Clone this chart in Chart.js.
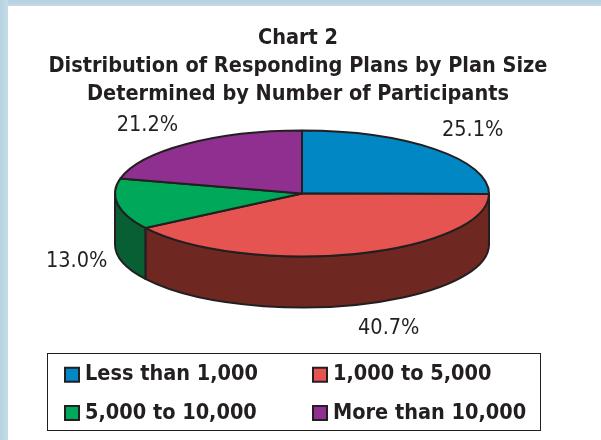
<!DOCTYPE html>
<html>
<head>
<meta charset="utf-8">
<style>
html,body{margin:0;padding:0;width:601px;height:440px;overflow:hidden;background:#fff}
#frameTop{position:absolute;left:0;top:0;width:601px;height:6px;background:linear-gradient(to bottom,#b4cfdf,#c4dae6)}
#frameLeft{position:absolute;left:0;top:0;width:8px;height:440px;background:linear-gradient(to right,#b7d3e2,#c6dbe7)}
canvas{position:absolute;left:0;top:0;display:block}
</style>
<script src="https://cdn.jsdelivr.net/npm/chart.js@4"></script>
</head>
<body>
<div id="frameTop"></div><div id="frameLeft"></div>
<canvas id="c" width="601" height="440"></canvas>
<script>
const titleLines = ['Chart 2','Distribution of Responding Plans by Plan Size','Determined by Number of Participants'];
const categories = ['Less than 1,000','1,000 to 5,000','5,000 to 10,000','More than 10,000'];
const shares = [25.1, 40.7, 13.0, 21.2];
const topColors = ['#0087c4','#e55451','#00a85a','#8f3090'];
const wallColors = ['#00506f','#6f2821','#085f33','#521a54'];
const legendOrder = [0, 2, 1, 3];
const ink = '#231f20';
const fontFamily = '"DejaVu Sans Condensed", "DejaVu Sans", sans-serif';

const pieShape = {cx:302, cy:193.5, rx:187, ry:63, depth:51};
const labelOffsets = [[38,-19],[34,74],[-41,57],[-39,-19]];
const legendFrame = {left:47.5, top:353.5, right:540.5, bottom:430.5};
const legendPad = 16.8, legendColumnStep = 248;

const pie3d = {
  id:'pie3d',
  beforeLayout(chart){
    const lg = chart.legend;
    if (lg && !lg._patched){
      lg._patched = true;
      const fit = lg.fit;
      lg.fit = function(){
        this.maxHeight = 110;
        fit.call(this);
        this.columnSizes[0].width = legendColumnStep - legendPad;
        this.width = 1; this.height = 1;
      };
    }
  },
  afterLayout(chart){
    const lg = chart.legend;
    lg.left = 69.75 - legendPad; lg.right = legendFrame.right;
    lg.top = 364 - legendPad; lg.bottom = 446;
    lg.width = lg.right - lg.left; lg.height = lg.bottom - lg.top;
  },
  beforeDatasetsDraw(chart){
    const ctx = chart.ctx, {cx,cy,rx,ry,depth} = pieShape;
    const arcs = chart.getDatasetMeta(0).data;
    ctx.save();
    ctx.lineWidth = 2; ctx.strokeStyle = ink; ctx.lineJoin = 'round';
    arcs.forEach((a,i)=>{
      const t0 = Math.max(a.startAngle, 0), t1 = Math.min(a.endAngle, Math.PI);
      if (t1 <= t0) return;
      ctx.beginPath();
      ctx.ellipse(cx,cy,rx,ry,0,t0,t1,false);
      ctx.ellipse(cx,cy+depth,rx,ry,0,t1,t0,true);
      ctx.closePath();
      ctx.fillStyle = wallColors[i];
      ctx.fill(); ctx.stroke();
    });
    ctx.restore();
    const a0 = arcs[0], s = a0.outerRadius;
    ctx.save();
    ctx.translate(cx,cy);
    ctx.scale(rx/s, ry/s);
    ctx.translate(-a0.x,-a0.y);
    const stroke = ctx.stroke;
    ctx.stroke = function(){
      ctx.save();
      ctx.setTransform(1,0,0,1,0,0);
      stroke.call(ctx);
      ctx.restore();
    };
  },
  afterDatasetsDraw(chart){
    const ctx = chart.ctx, {cx,cy,rx,ry} = pieShape;
    delete ctx.stroke;
    ctx.restore();
    const arcs = chart.getDatasetMeta(0).data;
    ctx.save();
    ctx.fillStyle = ink;
    ctx.font = '21.5px ' + fontFamily;
    ctx.textAlign = 'center'; ctx.textBaseline = 'middle';
    arcs.forEach((a,i)=>{
      const m = (a.startAngle + a.endAngle)/2;
      ctx.fillText(shares[i].toFixed(1)+'%', cx+rx*Math.cos(m)+labelOffsets[i][0], cy+ry*Math.sin(m)+labelOffsets[i][1]);
    });
    ctx.restore();
  },
  afterDraw(chart){
    const ctx = chart.ctx, f = legendFrame;
    ctx.save();
    ctx.strokeStyle = ink; ctx.lineWidth = 1;
    ctx.strokeRect(f.left,f.top,f.right-f.left,f.bottom-f.top);
    ctx.restore();
  }
};

new Chart(document.getElementById('c'),{
  type:'pie',
  data:{labels:categories,datasets:[{
    data:shares, backgroundColor:topColors, borderColor:ink, borderWidth:2, borderAlign:'center', clip:false
  }]},
  options:{
    responsive:false, animation:false,
    layout:{padding:{right:5}},
    plugins:{
      tooltip:{enabled:false},
      title:{display:true,text:titleLines,color:ink,align:'center',
        font:{family:fontFamily,size:21.5,weight:'bold',lineHeight:1.302},padding:{top:24,bottom:4}},
      legend:{display:true,position:'left',align:'start',
        labels:{color:ink,font:{family:fontFamily,size:21.5,weight:'bold'},usePointStyle:true,pointStyle:'rect',boxWidth:4.5,boxHeight:14,padding:legendPad,
          sort:(a,b)=>legendOrder.indexOf(a.index)-legendOrder.indexOf(b.index)}}
    }
  },
  plugins:[pie3d]
});
</script>
</body>
</html>
